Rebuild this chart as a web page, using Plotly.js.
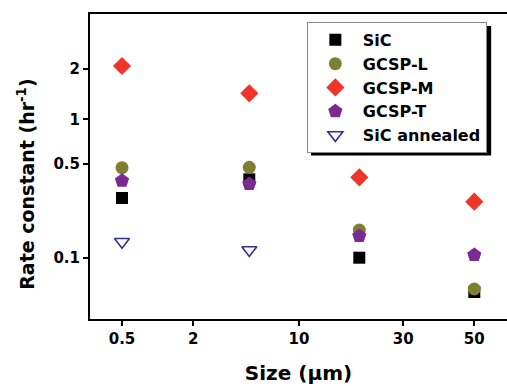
<!DOCTYPE html>
<html>
<head>
<meta charset="utf-8">
<script src="https://cdn.plot.ly/plotly-3.0.1.min.js"></script>
<style>html,body{margin:0;padding:0;background:#fff;}#chart{width:507px;height:386px;}</style>
</head>
<body>
<div id="chart"></div>
<script>
// Axis positions (the original axes are labelled at uneven spacings)
var xTickPos  = [0, 0.713, 1.77, 2.813, 3.523];
var xTickText = ['0.5', '2', '10', '30', '50'];
var yTickPos  = [0, 0.937, 1.384, 1.887];
var yTickText = ['0.1', '0.5', '1', '2'];

// Particle size positions of the four samples
var sizePos = [0, 1.273, 2.373, 3.523];

// Rate constants, in the y-axis units above
var sic          = [0.597, 0.784, 0.0, -0.343];
var gcspL        = [0.90, 0.904, 0.277, -0.313];
var gcspM        = [1.917, 1.644, 0.804, 0.56];
var gcspT        = [0.77, 0.737, 0.217, 0.027];
var sicAnnealed  = [0.16, 0.077];

var F = 'DejaVu Sans, Liberation Sans, Arial, sans-serif';

var traces = [
  {name:'SiC', x:sizePos, y:sic, mode:'markers', type:'scatter',
   marker:{symbol:'square', size:12, color:'#000000'}},
  {name:'GCSP-L', x:sizePos, y:gcspL, mode:'markers', type:'scatter',
   marker:{symbol:'circle', size:13, color:'#7f7f32'}},
  {name:'GCSP-M', x:sizePos, y:gcspM, mode:'markers', type:'scatter',
   marker:{symbol:'diamond', size:14, color:'#ef3428'}},
  {name:'GCSP-T', x:sizePos, y:gcspT, mode:'markers', type:'scatter',
   marker:{symbol:'pentagon', size:15, color:'#7b2a90'}},
  {name:'SiC annealed', x:sizePos.slice(0,2), y:sicAnnealed, mode:'markers', type:'scatter',
   marker:{symbol:'triangle-down-open', size:13, color:'#2e3192', line:{width:1.6, color:'#2e3192'}}}
];

var layout = {
  width:507, height:386,
  margin:{l:90, r:0, t:14, b:67},
  paper_bgcolor:'#ffffff', plot_bgcolor:'#ffffff',
  font:{family:F, color:'#000'},
  showlegend:true,
  xaxis:{
    range:[-0.32, 3.85], tickmode:'array', tickvals:xTickPos, ticktext:xTickText,
    showgrid:false, zeroline:false, showline:true, linecolor:'#000', linewidth:2, mirror:true,
    ticks:'outside', ticklen:5, tickwidth:2, tickcolor:'#000',
    tickfont:{family:F, size:15, color:'#000', weight:'bold'},
    title:{text:'<b>Size (\u03bcm)</b>', font:{family:F, size:20, color:'#000'}, standoff:19}
  },
  yaxis:{
    range:[-0.613, 2.437], tickmode:'array', tickvals:yTickPos, ticktext:yTickText,
    showgrid:false, zeroline:false, showline:true, linecolor:'#000', linewidth:2, mirror:false,
    ticks:'outside', ticklen:5, tickwidth:2, tickcolor:'#000',
    tickfont:{family:F, size:15, color:'#000', weight:'bold'}
  },
  legend:{
    x:0.52, y:0.974, xanchor:'left', yanchor:'top',
    bgcolor:'#ffffff', bordercolor:'#888888', borderwidth:1,
    font:{family:F, size:16, color:'#000', weight:'bold'},
    itemwidth:45
  },
  annotations:[{
    text:'<b>Rate constant (hr<sup>-1</sup>)</b>', textangle:-90,
    xref:'paper', yref:'paper', x:0, xshift:-64, y:0.44, xanchor:'center', yanchor:'middle',
    showarrow:false, font:{family:F, size:19, color:'#000'}
  }],
  shapes:[{
    type:'rect', xref:'paper', yref:'paper', layer:'below',
    x0:0.530, x1:0.962, y0:0.536, y1:0.961,
    fillcolor:'#000', line:{width:0}
  }]
};

Plotly.newPlot('chart', traces, layout, {displayModeBar:false, staticPlot:true});
</script>
</body>
</html>
